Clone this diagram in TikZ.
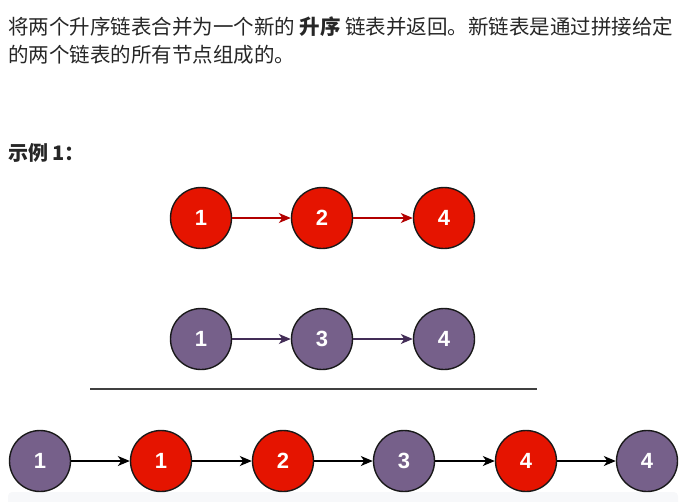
\documentclass[tikz,border=0pt]{standalone}
\usepackage{fontspec}
\setmainfont{Liberation Sans}
\newfontfamily\cjk{Noto Sans CJK SC}
\usetikzlibrary{arrows.meta}
\definecolor{nodered}{HTML}{E51400}
\definecolor{nodepurple}{HTML}{76608A}
\definecolor{arrowred}{HTML}{B20000}
\definecolor{arrowpurple}{HTML}{432D57}
\definecolor{textgray}{HTML}{262626}
\definecolor{codebg}{HTML}{F7F8FA}

\tikzset{
  listnode/.style={circle, draw=black!90, line width=1.4pt, minimum size=61pt, inner sep=0pt,
    text=white, font=\fontsize{22}{22}\selectfont\bfseries},
  rednode/.style={listnode, fill=nodered},
  purplenode/.style={listnode, fill=nodepurple},
  link/.style={-{Stealth[length=12pt,width=10pt,inset=3.5pt]}, line width=1.3pt},
  cjktext/.style={anchor=west, inner sep=0pt, text=textgray, font=\cjk\fontsize{20.5}{24}\selectfont},
}

\begin{document}
\begin{tikzpicture}[x=1pt, y=-1pt]
    \useasboundingbox (0,0) rectangle (698,501);

    % Problem text
    \node[cjktext] (line1) at (8,27) {将两个升序链表合并为一个新的 \textbf{升序} 链表并返回。新链表是通过拼接给定};
    \node[cjktext] (line2) at (8,55) {的两个链表的所有节点组成的。};
    \node[cjktext, font=\cjk\fontsize{20}{24}\selectfont\bfseries] (example) at (8,153) {示例 1：};

    % First list
    \node[rednode] (a1) at (201,218) {1};
    \node[rednode] (a2) at (322,218) {2};
    \node[rednode] (a3) at (444,218) {4};
    \draw[link, arrowred] (a1) -- (a2);
    \draw[link, arrowred] (a2) -- (a3);

    % Second list
    \node[purplenode] (b1) at (201,339) {1};
    \node[purplenode] (b2) at (322,339) {3};
    \node[purplenode] (b3) at (444,339) {4};
    \draw[link, arrowpurple] (b1) -- (b2);
    \draw[link, arrowpurple] (b2) -- (b3);

    % Separator
    \coordinate (sepL) at (90,389);
    \coordinate (sepR) at (537,389);
    \draw[line width=2pt, black!75] (sepL) -- (sepR);

    % Code block background
    \fill[codebg, rounded corners=4pt] (8,492) rectangle (678,515);

    % Merged list
    \node[purplenode] (m1) at (40,461) {1};
    \node[rednode] (m2) at (161,461) {1};
    \node[rednode] (m3) at (283,461) {2};
    \node[purplenode] (m4) at (404,461) {3};
    \node[rednode] (m5) at (526,461) {4};
    \node[purplenode] (m6) at (647,461) {4};
    \draw[link] (m1) -- (m2);
    \draw[link] (m2) -- (m3);
    \draw[link] (m3) -- (m4);
    \draw[link] (m4) -- (m5);
    \draw[link] (m5) -- (m6);
\end{tikzpicture}
\end{document}
